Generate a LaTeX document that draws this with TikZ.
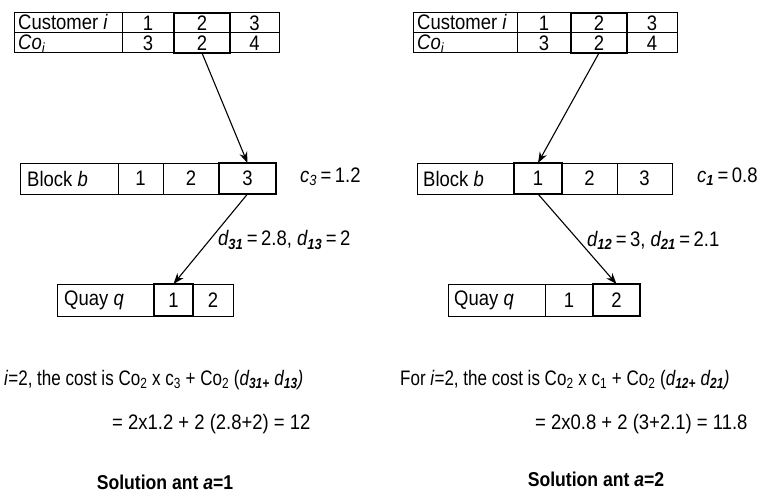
\documentclass[tikz,border=0pt]{standalone}
\usepackage{fontspec}
\setmainfont[FakeStretch=0.88]{Liberation Sans}
\newfontfamily\costfont[FakeStretch=0.81]{Liberation Sans}
\usetikzlibrary{arrows.meta}
\newcommand\sbs[1]{\textsubscript{#1}}
\tikzset{
  cell/.style={draw, line width=1pt, rectangle, inner sep=0pt, outer sep=0pt},
  pick/.style={draw, line width=2.6pt, rectangle, inner sep=0pt, outer sep=0pt},
  lbl/.style={anchor=west, inner sep=0pt},
  rowlbl/.style={anchor=west, inner sep=0pt, text height=14pt, text depth=3pt},
  link/.style={line width=1.1pt, -{Stealth[length=11pt,width=8pt]}},
  txt/.style={anchor=west, inner sep=0pt},
  costline/.style={anchor=west, inner sep=0pt, font=\costfont\fontsize{21}{25}\selectfont},
  solution/.style={font=\fontsize{20}{24}\selectfont\bfseries}
}
\begin{document}
\begin{tikzpicture}[x=1pt, y=-1pt, font=\fontsize{21}{25}\selectfont]
\useasboundingbox (0,0) rectangle (766,495);

% ---------------- left solution (a=1) ----------------
% customer table
\node[cell, minimum width=108pt, minimum height=20pt] (lc0) at (68,23) {};
\node[cell, minimum width=52pt, minimum height=20pt] (lc1) at (148,23) {1};
\node[cell, minimum width=56pt, minimum height=20pt] (lc2) at (202,23) {2};
\node[cell, minimum width=49pt, minimum height=20pt] (lc3) at (254.5,23) {3};
\node[cell, minimum width=108pt, minimum height=20pt] (lo0) at (68,43) {};
\node[cell, minimum width=52pt, minimum height=20pt] (lo1) at (148,43) {3};
\node[cell, minimum width=56pt, minimum height=20pt] (lo2) at (202,43) {2};
\node[cell, minimum width=49pt, minimum height=20pt] (lo3) at (254.5,43) {4};
\node[rowlbl] (lcT) at (18,24.5) {Customer \textit{i}};
\node[rowlbl] (loT) at (18,44) {\textit{Co\sbs{i}}};
\node[pick, minimum width=56pt, minimum height=40pt] (lsel) at (202,33) {};

% block row
\node[cell, minimum width=98pt, minimum height=31pt] (lb0) at (69,178.5) {};
\node[cell, minimum width=45pt, minimum height=31pt] (lb1) at (140.5,178.5) {1};
\node[cell, minimum width=56pt, minimum height=31pt] (lb2) at (191,178.5) {2};
\node[pick, minimum width=57pt, minimum height=31pt] (lb3) at (247.5,178.5) {3};
\node[lbl] (lbT) at (27,178.5) {Block \textit{b}};
\node[txt] (lcost) at (300,177) {\textit{c\sbs{3}}\,=\,1.2};

% quay row
\node[cell, minimum width=97pt, minimum height=32pt] (lq0) at (105.5,300) {};
\node[pick, minimum width=39pt, minimum height=32pt] (lq1) at (173.5,300) {1};
\node[cell, minimum width=40pt, minimum height=32pt] (lq2) at (213,300) {2};
\node[lbl] (lqT) at (64,300) {Quay \textit{q}};

\draw[link] (lsel.south) -- (lb3.north);
\draw[link] (lb3.south) -- (lq1.north);
\node[txt] (ldist) at (218,240) {\textit{d\sbs{\textbf{31}}}\,=\,2.8, \textit{d\sbs{\textbf{13}}}\,=\,2};

\node[costline] (lline1) at (4,380) {\textit{i}=2, the cost is Co\sbs{2} x c\sbs{3} + Co\sbs{2} (\textit{d\sbs{\textbf{31+}} d\sbs{\textbf{13}})}};
\node[txt] (lline2) at (112,424) {= 2x1.2 + 2 (2.8+2) = 12};
\node[solution] (lsol) at (165,482) {Solution ant \textit{a}=1};

% ---------------- right solution (a=2) ----------------
\node[cell, minimum width=104pt, minimum height=20pt] (rc0) at (465,23) {};
\node[cell, minimum width=54pt, minimum height=20pt] (rc1) at (544,23) {1};
\node[cell, minimum width=56pt, minimum height=20pt] (rc2) at (599,23) {2};
\node[cell, minimum width=50pt, minimum height=20pt] (rc3) at (652,23) {3};
\node[cell, minimum width=104pt, minimum height=20pt] (ro0) at (465,43) {};
\node[cell, minimum width=54pt, minimum height=20pt] (ro1) at (544,43) {3};
\node[cell, minimum width=56pt, minimum height=20pt] (ro2) at (599,43) {2};
\node[cell, minimum width=50pt, minimum height=20pt] (ro3) at (652,43) {4};
\node[rowlbl] (rcT) at (417,24.5) {Customer \textit{i}};
\node[rowlbl] (roT) at (417,44) {\textit{Co\sbs{i}}};
\node[pick, minimum width=56pt, minimum height=40pt] (rsel) at (599,33) {};

\node[cell, minimum width=97pt, minimum height=31pt] (rb0) at (465.5,178.5) {};
\node[pick, minimum width=48pt, minimum height=31pt] (rb1) at (538,178.5) {1};
\node[cell, minimum width=55pt, minimum height=31pt] (rb2) at (589.5,178.5) {2};
\node[cell, minimum width=55pt, minimum height=31pt] (rb3) at (644.5,178.5) {3};
\node[lbl] (rbT) at (423,178.5) {Block \textit{b}};
\node[txt] (rcost) at (697,177) {\textit{c\sbs{\textbf{1}}}\,=\,0.8};

\node[cell, minimum width=97pt, minimum height=32pt] (rq0) at (496.5,300) {};
\node[cell, minimum width=48pt, minimum height=32pt] (rq1) at (569,300) {1};
\node[pick, minimum width=47pt, minimum height=32pt] (rq2) at (616.5,300) {2};
\node[lbl] (rqT) at (454,300) {Quay \textit{q}};

\draw[link] (rsel.south) -- (rb1.north);
\draw[link] (rb1.south) -- (rq2.north);
\node[txt] (rdist) at (587,240) {\textit{d\sbs{\textbf{12}}}\,=\,3, \textit{d\sbs{\textbf{21}}}\,=\,2.1};

\node[costline] (rline1) at (400,380) {For \textit{i}=2, the cost is Co\sbs{2} x c\sbs{1} + Co\sbs{2} (\textit{d\sbs{\textbf{12+}} d\sbs{\textbf{21}})}};
\node[txt] (rline2) at (535,424) {= 2x0.8 + 2 (3+2.1) = 11.8};
\node[solution] (rsol) at (596,479) {Solution ant \textit{a}=2};
\end{tikzpicture}
\end{document}
